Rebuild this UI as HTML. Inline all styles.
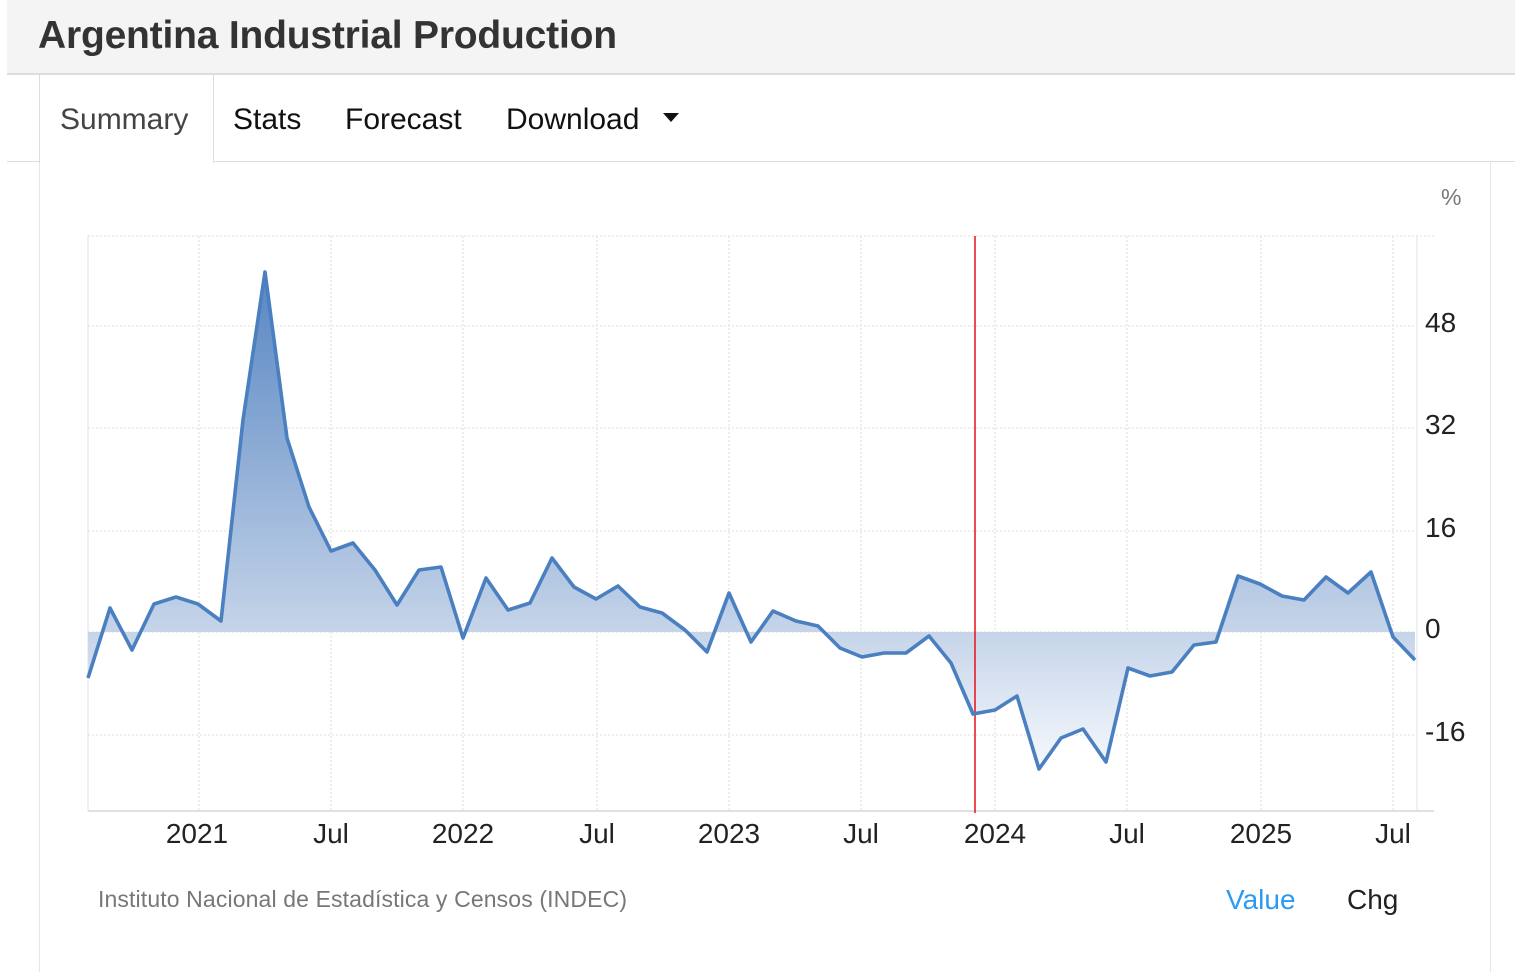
<!DOCTYPE html>
<html><head><meta charset="utf-8"><style>
body{margin:0;width:1520px;height:965px;background:#fff;font-family:"Liberation Sans",sans-serif;overflow:hidden;position:relative}
.hdr{position:absolute;left:7px;top:0;width:1508px;height:73px;background:#f4f4f4;border-bottom:2px solid #ddd}
.hdr h1{margin:0;position:absolute;left:31px;top:14px;font-size:39px;font-weight:bold;color:#333;letter-spacing:-0.2px}
.tabline{position:absolute;left:7px;top:161px;width:1508px;height:1px;background:#ddd}
.tab{position:absolute;top:103px;font-size:30px;color:#111}
.sum{position:absolute;left:39px;top:75px;width:173px;height:88px;background:#fff;border-left:1px solid #ddd;border-right:1px solid #ddd}
.panel{position:absolute;left:39px;top:162px;width:1450px;height:810px;border-left:1px solid #e6e6e6;border-right:1px solid #e6e6e6}
</style></head><body>
<div class="hdr"><h1>Argentina Industrial Production</h1></div>
<div class="tabline"></div>
<div class="panel"></div>
<div class="sum"></div>
<div class="tab" style="left:60px;color:#444">Summary</div>
<div class="tab" style="left:233px">Stats</div>
<div class="tab" style="left:345px">Forecast</div>
<div class="tab" style="left:506px">Download</div>
<svg style="position:absolute;left:663px;top:113px" width="16" height="10"><polygon points="0,0 16,0 8,9" fill="#111"/></svg>
<svg style="position:absolute;left:0;top:0" width="1520" height="965">
<defs><linearGradient id="g" gradientUnits="userSpaceOnUse" x1="0" y1="272" x2="0" y2="770">
<stop offset="0" stop-color="#4f80bf" stop-opacity="0.95"/><stop offset="0.72" stop-color="#c5d4e9"/><stop offset="1" stop-color="#f6f9fd"/></linearGradient></defs>
<g stroke="#ddd" stroke-dasharray="2,2" stroke-width="1">
<line x1="88" y1="236" x2="1434" y2="236"/><line x1="88" y1="326" x2="1416" y2="326"/><line x1="88" y1="428" x2="1416" y2="428"/><line x1="88" y1="531" x2="1416" y2="531"/><line x1="88" y1="632" x2="1416" y2="632"/><line x1="88" y1="735" x2="1416" y2="735"/>
<line x1="199" y1="236" x2="199" y2="811"/><line x1="331" y1="236" x2="331" y2="811"/><line x1="463" y1="236" x2="463" y2="811"/><line x1="597" y1="236" x2="597" y2="811"/><line x1="729" y1="236" x2="729" y2="811"/><line x1="861" y1="236" x2="861" y2="811"/><line x1="995" y1="236" x2="995" y2="811"/><line x1="1127" y1="236" x2="1127" y2="811"/><line x1="1261" y1="236" x2="1261" y2="811"/><line x1="1393" y1="236" x2="1393" y2="811"/>
</g>
<line x1="88" y1="236" x2="88" y2="811" stroke="#e0e0e0"/>
<line x1="1417" y1="236" x2="1417" y2="811" stroke="#e0e0e0"/>
<line x1="88" y1="811" x2="1434" y2="811" stroke="#e0e0e0" stroke-width="2"/>
<polygon fill="url(#g)" points="88,632 88,678 110,608 132,650 154,604 176,597 198,604 221,621 243,420 265,272 287,438 309,507 331,551 353,543 375,570 397,605 419,570 441,567 463,638 486,578 508,610 530,603 552,558 574,587 596,599 618,586 640,607 662,613 685,630 707,652 729,593 751,642 773,611 796,621 818,626 840,648 862,657 884,653 906,653 929,636 951,663 973,714 995,710 1017,696 1039,769 1061,738 1083,729 1106,762 1128,668 1150,676 1172,672 1194,645 1216,642 1238,576 1260,584 1282,596 1304,600 1326,577 1348,593 1371,572 1393,637 1415,660 1415,632"/>
<line x1="975" y1="236" x2="975" y2="813" stroke="#e8101a" stroke-width="1.5"/>
<polyline fill="none" stroke="#4a7fc0" stroke-width="3.6" stroke-linejoin="round" points="88,678 110,608 132,650 154,604 176,597 198,604 221,621 243,420 265,272 287,438 309,507 331,551 353,543 375,570 397,605 419,570 441,567 463,638 486,578 508,610 530,603 552,558 574,587 596,599 618,586 640,607 662,613 685,630 707,652 729,593 751,642 773,611 796,621 818,626 840,648 862,657 884,653 906,653 929,636 951,663 973,714 995,710 1017,696 1039,769 1061,738 1083,729 1106,762 1128,668 1150,676 1172,672 1194,645 1216,642 1238,576 1260,584 1282,596 1304,600 1326,577 1348,593 1371,572 1393,637 1415,660"/>
<g font-size="28" fill="#222" font-family="Liberation Sans,sans-serif">
<text x="1425" y="332">48</text><text x="1425" y="434">32</text><text x="1425" y="537">16</text><text x="1425" y="638">0</text><text x="1425" y="741">-16</text>
<g text-anchor="middle"><text x="197" y="843">2021</text><text x="331" y="843">Jul</text><text x="463" y="843">2022</text><text x="597" y="843">Jul</text><text x="729" y="843">2023</text><text x="861" y="843">Jul</text><text x="995" y="843">2024</text><text x="1127" y="843">Jul</text><text x="1261" y="843">2025</text><text x="1393" y="843">Jul</text></g>
</g>
<text x="1441" y="205" font-size="23" fill="#777">%</text>
<text x="98" y="907" font-size="23" fill="#777" textLength="529">Instituto Nacional de Estadística y Censos (INDEC)</text>
<text x="1226" y="909" font-size="28" fill="#2b9af3">Value</text>
<text x="1347" y="909" font-size="28" fill="#222">Chg</text>
</svg>
</body></html>
